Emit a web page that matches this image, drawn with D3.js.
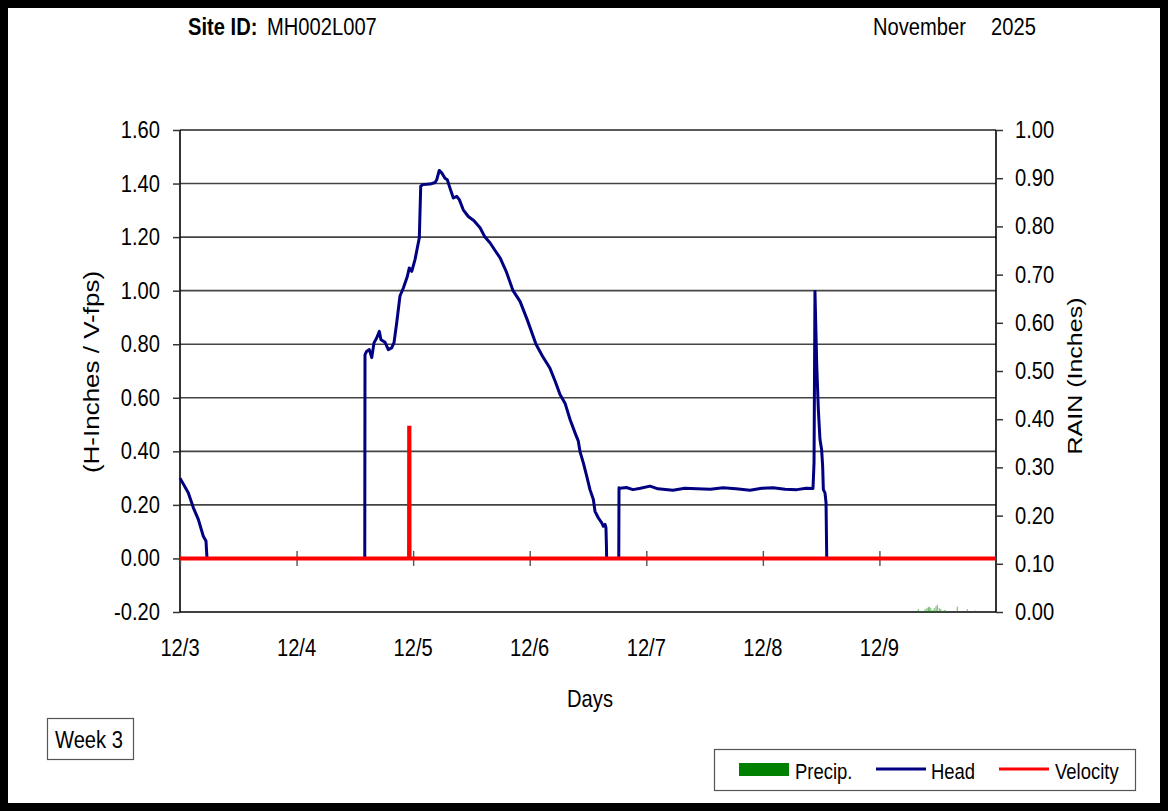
<!DOCTYPE html>
<html><head><meta charset="utf-8">
<script src="https://cdn.jsdelivr.net/npm/d3@7"></script>
<style>html,body{margin:0;padding:0;background:#fff;}svg{display:block;font-family:"Liberation Sans",Arial,sans-serif;}</style>
</head><body><svg id="c" width="1168" height="811"></svg>
<script>
// ---- data ----
const dayLabels = ["12/3","12/4","12/5","12/6","12/7","12/8","12/9"];
const leftTicks = [-0.2,0,0.2,0.4,0.6,0.8,1.0,1.2,1.4,1.6];
const rightTicks = [0,0.1,0.2,0.3,0.4,0.5,0.6,0.7,0.8,0.9,1.0];
// days since 12/3 00:00
const headDays = [0,0.071,0.114,0.157,0.2,0.223,0.229,0.232,
 1.585,1.587,1.602,1.624,1.645,1.664,1.687,1.710,1.724,1.759,1.787,1.816,1.836,1.859,1.887,1.916,1.950,1.967,1.988,2.016,2.044,2.053,2.065,2.082,2.145,2.188,2.202,2.224,2.245,2.273,2.293,2.316,2.345,2.374,2.396,2.430,2.473,
 2.52,2.574,2.616,2.659,2.70,2.745,2.80,2.857,2.917,2.98,3.054,3.11,3.174,3.220,3.260,3.303,3.346,3.389,3.417,3.431,3.460,3.489,3.517,3.546,3.560,3.588,3.618,3.632,3.646,3.654,3.658,3.660,
 3.764,3.766,3.775,3.83,3.886,3.95,4.032,4.1,4.229,4.33,4.435,4.55,4.658,4.77,4.890,4.99,5.087,5.19,5.293,5.37,5.430,
 5.439,5.447,5.462,5.476,5.490,5.504,5.513,5.519,5.533,5.542,5.548,7];
const headVals = [0.30,0.245,0.19,0.146,0.083,0.065,0.02,0,
 0,0.761,0.774,0.78,0.75,0.805,0.823,0.848,0.817,0.807,0.78,0.786,0.806,0.88,0.98,1.01,1.053,1.085,1.072,1.116,1.178,1.197,1.39,1.396,1.398,1.404,1.414,1.449,1.44,1.42,1.414,1.383,1.346,1.352,1.34,1.302,1.277,
 1.262,1.235,1.20,1.179,1.152,1.123,1.07,1.0,0.96,0.89,0.80,0.755,0.71,0.66,0.612,0.58,0.519,0.469,0.438,0.40,0.357,0.307,0.257,0.22,0.176,0.152,0.133,0.12,0.127,0.115,0.05,0,
 0,0.264,0.262,0.265,0.257,0.262,0.27,0.26,0.255,0.262,0.26,0.258,0.264,0.26,0.255,0.262,0.264,0.258,0.257,0.262,0.261,
 0.357,0.997,0.724,0.556,0.444,0.407,0.344,0.257,0.245,0.208,0,0];
const velDays = [0,1.965,1.966,1.968,1.969,7];
const velVals = [0,0,0.488,0.488,0,0];
const precipDays = [6.334,6.391,6.406,6.419,6.428,6.440,6.457,6.471,6.485,6.497,6.514,6.526,6.557,6.565,6.668,6.754,6.825];
const precipVals = [0.006,0.006,0.008,0.010,0.011,0.008,0.004,0.008,0.012,0.015,0.008,0.006,0.004,0.003,0.011,0.006,0.003];

// ---- drawing ----
const svg = d3.select("#c");
const SX = 0.84;
const L=180,R=996,T=130,B=612;
const x = d3.scaleLinear().domain([0,7]).range([L,R]);
const yL = d3.scaleLinear().domain([-0.2,1.6]).range([B,T]);
const yR = d3.scaleLinear().domain([0,1]).range([B,T]);

function txt(g,xp,yp,s,opts={}){
  const t=g.append("text").attr("transform",`translate(${xp},${yp}) scale(${opts.sx??SX},1)`)
   .attr("font-size",opts.size||24).attr("fill","#000").attr("text-anchor",opts.anchor||"start")
   .attr("font-weight",opts.weight||"normal").text(s);
  return t;
}

svg.append("rect").attr("x",0).attr("y",0).attr("width",1168).attr("height",811).attr("fill","#fff");
svg.append("rect").attr("x",4).attr("y",4).attr("width",1160).attr("height",803).attr("fill","none").attr("stroke","#000").attr("stroke-width",8);

// header
txt(svg,188,35,"Site ID:",{weight:"bold"});
txt(svg,267,35,"MH002L007");
txt(svg,873,35,"November");
txt(svg,991,35,"2025");

// gridlines
svg.append("g").selectAll("line").data(leftTicks.filter(v=>v>-0.2)).join("line")
 .attr("x1",L).attr("x2",R).attr("y1",d=>yL(d)).attr("y2",d=>yL(d))
 .attr("stroke",d=>d===1.6?"#222":"#444").attr("stroke-width",1.6);

// left axis
const gl = svg.append("g").attr("transform",`translate(${L},0)`)
 .call(d3.axisLeft(yL).tickValues(leftTicks).tickSize(7).tickFormat(()=>""));
gl.select(".domain").attr("stroke","#000").attr("stroke-width",1.6).attr("d",`M0,${T}V${B}`);
gl.selectAll(".tick line").attr("stroke","#333").attr("stroke-width",1.5);
leftTicks.forEach(v=>txt(svg,160,yL(v)+8,v.toFixed(2),{anchor:"end"}));

// right axis
const gr = svg.append("g").attr("transform",`translate(${R},0)`)
 .call(d3.axisRight(yR).tickValues(rightTicks).tickSize(7).tickFormat(()=>""));
gr.select(".domain").attr("stroke","#000").attr("stroke-width",1.6).attr("d",`M0,${T}V${B}`);
gr.selectAll(".tick line").attr("stroke","#333").attr("stroke-width",1.5);
rightTicks.forEach(v=>txt(svg,1015,yR(v)+8,v.toFixed(2)));

// bottom border
svg.append("line").attr("x1",L).attr("x2",R).attr("y1",B).attr("y2",B).attr("stroke","#000").attr("stroke-width",1.6);

// x ticks on zero line
const gx = svg.append("g").attr("transform",`translate(0,${yL(0)+7.5})`)
 .call(d3.axisBottom(x).tickValues(d3.range(0,7)).tickSize(15).tickFormat(()=>""));
gx.select(".domain").remove();
gx.selectAll(".tick line").attr("stroke","#555").attr("stroke-width",1.4).attr("y1",-15).attr("y2",0);
dayLabels.forEach((s,i)=>txt(svg,x(i),656,s,{anchor:"middle"}));

// precip bars
svg.append("g").selectAll("rect").data(precipDays.map((d,i)=>[d,precipVals[i]])).join("rect")
 .attr("x",d=>x(d[0])-0.6).attr("width",1.3).attr("y",d=>yR(d[1])).attr("height",d=>yR(0)-yR(d[1]))
 .attr("fill","#008000").attr("opacity",0.45);

// head line
const headPts = headDays.map((d,i)=>[d,headVals[i]]);
svg.append("path").datum(headPts).attr("fill","none").attr("stroke","#000080").attr("stroke-width",3)
 .attr("stroke-linejoin","round").attr("d",d3.line().x(d=>x(d[0])).y(d=>yL(d[1])));
// velocity
const velPts = velDays.map((d,i)=>[d,velVals[i]]);
svg.append("path").datum(velPts).attr("fill","none").attr("stroke","#ff0000").attr("stroke-width",4)
 .attr("d",d3.line().x(d=>x(d[0])).y(d=>yL(d[1])));

// axis titles
svg.append("text").attr("transform","translate(99,372) rotate(-90) scale(1,0.84)").attr("text-anchor","middle")
 .attr("font-size",26).text("(H-Inches / V-fps)");
svg.append("text").attr("transform","translate(1082,376) rotate(-90) scale(1,0.84)").attr("text-anchor","middle")
 .attr("font-size",25).text("RAIN (Inches)");
txt(svg,590,707,"Days",{anchor:"middle"});

// week box
svg.append("rect").attr("x",47.5).attr("y",718.5).attr("width",86).attr("height",41).attr("fill","#fff").attr("stroke","#555").attr("stroke-width",1.2);
txt(svg,55,748,"Week 3");

// legend
const lg = svg.append("g");
lg.append("rect").attr("x",714.5).attr("y",749.5).attr("width",421).attr("height",41).attr("fill","#fff").attr("stroke","#555").attr("stroke-width",1.2);
lg.append("rect").attr("x",739).attr("y",763).attr("width",50).attr("height",13).attr("fill","#008000");
txt(lg,795,779,"Precip.",{size:22});
lg.append("line").attr("x1",876).attr("x2",926).attr("y1",769).attr("y2",769).attr("stroke","#000080").attr("stroke-width",3);
txt(lg,931,779,"Head",{size:22});
lg.append("line").attr("x1",999).attr("x2",1049).attr("y1",769).attr("y2",769).attr("stroke","#ff0000").attr("stroke-width",3);
txt(lg,1055,779,"Velocity",{size:22});
</script></body></html>
